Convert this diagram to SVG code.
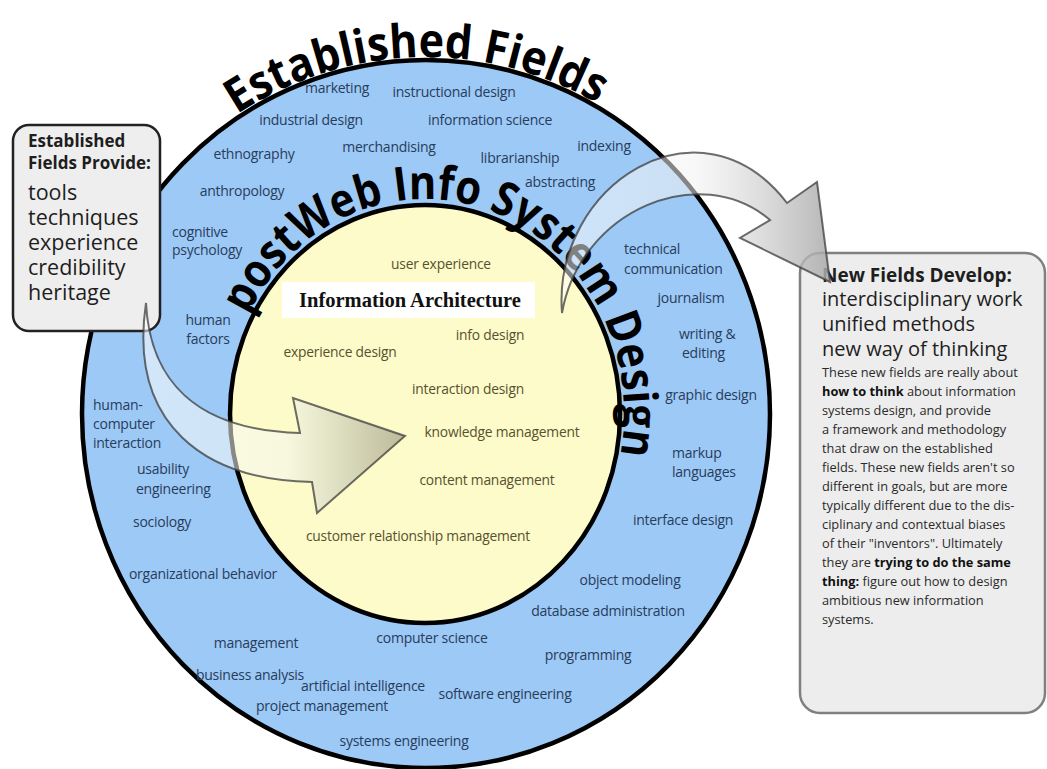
<svg xmlns="http://www.w3.org/2000/svg" width="1047" height="769" viewBox="0 0 1047 769">
<defs>
<style>
.f{font-family:"Open Sans","Noto Sans","DejaVu Sans",sans-serif;}
.b{font-family:"Open Sans","Noto Sans","DejaVu Sans",sans-serif;font-size:14px;letter-spacing:-0.25px;fill:#283c5c;}
.y{font-family:"Open Sans","Noto Sans","DejaVu Sans",sans-serif;font-size:13.8px;letter-spacing:-0.2px;fill:#57512f;}
.c{text-anchor:middle;}
.big{font-family:"Open Sans","Noto Sans","DejaVu Sans",sans-serif;font-weight:700;font-size:47px;fill:#000;}
.lb{font-family:"Open Sans","Noto Sans","DejaVu Sans",sans-serif;fill:#1e1e1e;}
.arrow{stroke:#3c3c3c;stroke-width:2;stroke-opacity:0.75;stroke-linejoin:miter;}
</style>
<path id="p-est" d="M99,292 A348,357 0 0 1 753,292"/>
<path id="p-post" d="M226,413 A199,214 0 0 1 624,413 A199,214 0 0 1 425,627"/>
<linearGradient id="g-left" x1="140" y1="0" x2="405" y2="0" gradientUnits="userSpaceOnUse">
<stop offset="0" stop-color="#ffffff" stop-opacity="0.55"/>
<stop offset="0.55" stop-color="#f4f6f0" stop-opacity="0.55"/>
<stop offset="1" stop-color="#8f8f78" stop-opacity="0.6"/>
</linearGradient>
<linearGradient id="g-right" x1="560" y1="0" x2="830" y2="0" gradientUnits="userSpaceOnUse">
<stop offset="0" stop-color="#ffffff" stop-opacity="0.5"/>
<stop offset="0.5" stop-color="#f2f2f2" stop-opacity="0.55"/>
<stop offset="1" stop-color="#a9a9a9" stop-opacity="0.85"/>
</linearGradient>
</defs>
<rect width="1047" height="769" fill="#ffffff"/>

<g id="outer-ring">
<ellipse cx="426" cy="414" rx="344" ry="354" fill="#9cc9f5" stroke="#000" stroke-width="4.5"/>
<text class="big"><textPath href="#p-est" startOffset="48.8%" text-anchor="middle" textLength="380" lengthAdjust="spacingAndGlyphs">Established Fields</textPath></text>
</g>

<g id="established-fields">
<text class="b c" x="337" y="93">marketing</text>
<text class="b c" x="454" y="97">instructional design</text>
<text class="b c" x="311" y="125">industrial design</text>
<text class="b c" x="490" y="125">information science</text>
<text class="b c" x="254" y="159">ethnography</text>
<text class="b c" x="389" y="152">merchandising</text>
<text class="b c" x="520" y="163">librarianship</text>
<text class="b c" x="604" y="151">indexing</text>
<text class="b c" x="560" y="187">abstracting</text>
<text class="b c" x="242" y="196">anthropology</text>
<text class="b" x="172" y="237">cognitive</text>
<text class="b" x="172" y="255">psychology</text>
<text class="b" x="624" y="254">technical</text>
<text class="b" x="624" y="274">communication</text>
<text class="b c" x="691" y="303">journalism</text>
<text class="b" x="679" y="339">writing &amp;</text>
<text class="b" x="682" y="358">editing</text>
<text class="b c" x="711" y="400">graphic design</text>
<text class="b" x="672" y="458">markup</text>
<text class="b" x="672" y="477">languages</text>
<text class="b c" x="683" y="525">interface design</text>
<text class="b c" x="630" y="585">object modeling</text>
<text class="b c" x="608" y="616">database administration</text>
<text class="b c" x="588" y="660">programming</text>
<text class="b c" x="505" y="699">software engineering</text>
<text class="b c" x="404" y="746">systems engineering</text>
<text class="b c" x="322" y="711">project management</text>
<text class="b c" x="363" y="691">artificial intelligence</text>
<text class="b c" x="432" y="643">computer science</text>
<text class="b c" x="250" y="680">business analysis</text>
<text class="b c" x="256" y="648">management</text>
<text class="b c" x="203" y="579">organizational behavior</text>
<text class="b c" x="162" y="527">sociology</text>
<text class="b" x="137" y="474">usability</text>
<text class="b" x="136" y="494">engineering</text>
<text class="b" x="93" y="410">human-</text>
<text class="b" x="93" y="429">computer</text>
<text class="b" x="93" y="448">interaction</text>
<text class="b c" x="208" y="325">human</text>
<text class="b c" x="208" y="344">factors</text>
</g>

<g id="inner-circle">
<ellipse cx="425" cy="414" rx="195" ry="209" fill="#fdfbc9" stroke="#000" stroke-width="4.5"/>
<text class="y c" x="441" y="269">user experience</text>
<text class="y c" x="490" y="340">info design</text>
<text class="y c" x="340" y="357">experience design</text>
<text class="y c" x="468" y="394">interaction design</text>
<text class="y c" x="502" y="437">knowledge management</text>
<text class="y c" x="487" y="485">content management</text>
<text class="y c" x="418" y="541">customer relationship management</text>
</g>

<g id="information-architecture">
<rect x="282" y="282" width="253" height="36" fill="#ffffff"/>
<text x="410" y="307" text-anchor="middle" font-family="'Liberation Serif','Times New Roman',serif" font-weight="700" font-size="20.5" fill="#111">Information Architecture</text>
</g>

<g id="postweb-title">
<text class="big"><textPath href="#p-post" startOffset="101" textLength="590" lengthAdjust="spacingAndGlyphs">postWeb Info System Design</textPath></text>
</g>

<g id="left-box">
<rect x="13" y="125" width="147" height="206" rx="16" fill="#eeeeee" stroke="#222" stroke-width="2.5"/>
<text class="lb" x="28" y="147" font-size="17" font-weight="700">Established</text>
<text class="lb" x="28" y="169" font-size="17" font-weight="700">Fields Provide:</text>
<text class="lb" x="28" y="200" font-size="21.5">tools</text>
<text class="lb" x="28" y="225" font-size="21.5">techniques</text>
<text class="lb" x="28" y="250" font-size="21.5">experience</text>
<text class="lb" x="28" y="275" font-size="21.5">credibility</text>
<text class="lb" x="28" y="300" font-size="21.5">heritage</text>
</g>

<g id="right-box">
<rect x="800" y="253" width="245" height="460" rx="20" fill="#ededed" stroke="#808080" stroke-width="2.5"/>
<text class="lb" x="822" y="282" font-size="19" font-weight="700">New Fields Develop:</text>
<text class="lb" x="822" y="306" font-size="20">interdisciplinary work</text>
<text class="lb" x="822" y="331" font-size="20">unified methods</text>
<text class="lb" x="822" y="356" font-size="20">new way of thinking</text>
<g class="f" font-size="12.8" fill="#2a2a2a">
<text x="822" y="377">These new fields are really about</text>
<text x="822" y="396"><tspan font-weight="700" fill="#111">how to think</tspan> about information</text>
<text x="822" y="415">systems design, and provide</text>
<text x="822" y="434">a framework and methodology</text>
<text x="822" y="453">that draw on the established</text>
<text x="822" y="472">fields.  These new fields aren't so</text>
<text x="822" y="491">different in goals, but are more</text>
<text x="822" y="510">typically different due to the dis-</text>
<text x="822" y="529">ciplinary and contextual biases</text>
<text x="822" y="548">of their "inventors".  Ultimately</text>
<text x="822" y="567">they are <tspan font-weight="700" fill="#111">trying to do the same</tspan></text>
<text x="822" y="586"><tspan font-weight="700" fill="#111">thing:</tspan>  figure out how to design</text>
<text x="822" y="605">ambitious new information</text>
<text x="822" y="624">systems.</text>
</g>
</g>

<g id="connectors">
<path class="arrow" fill="url(#g-left)" d="M146,303 C150,380 195,430 300,433 L293,398 L405,436 L317,513 L312,482 C205,480 128,425 146,303 Z"/>
<path class="arrow" fill="url(#g-right)" d="M562,313 C552,185 700,90 787,203 L817,182 L830,282 L740,238 L770,220 C700,160 580,210 562,313 Z"/>
</g>
</svg>
